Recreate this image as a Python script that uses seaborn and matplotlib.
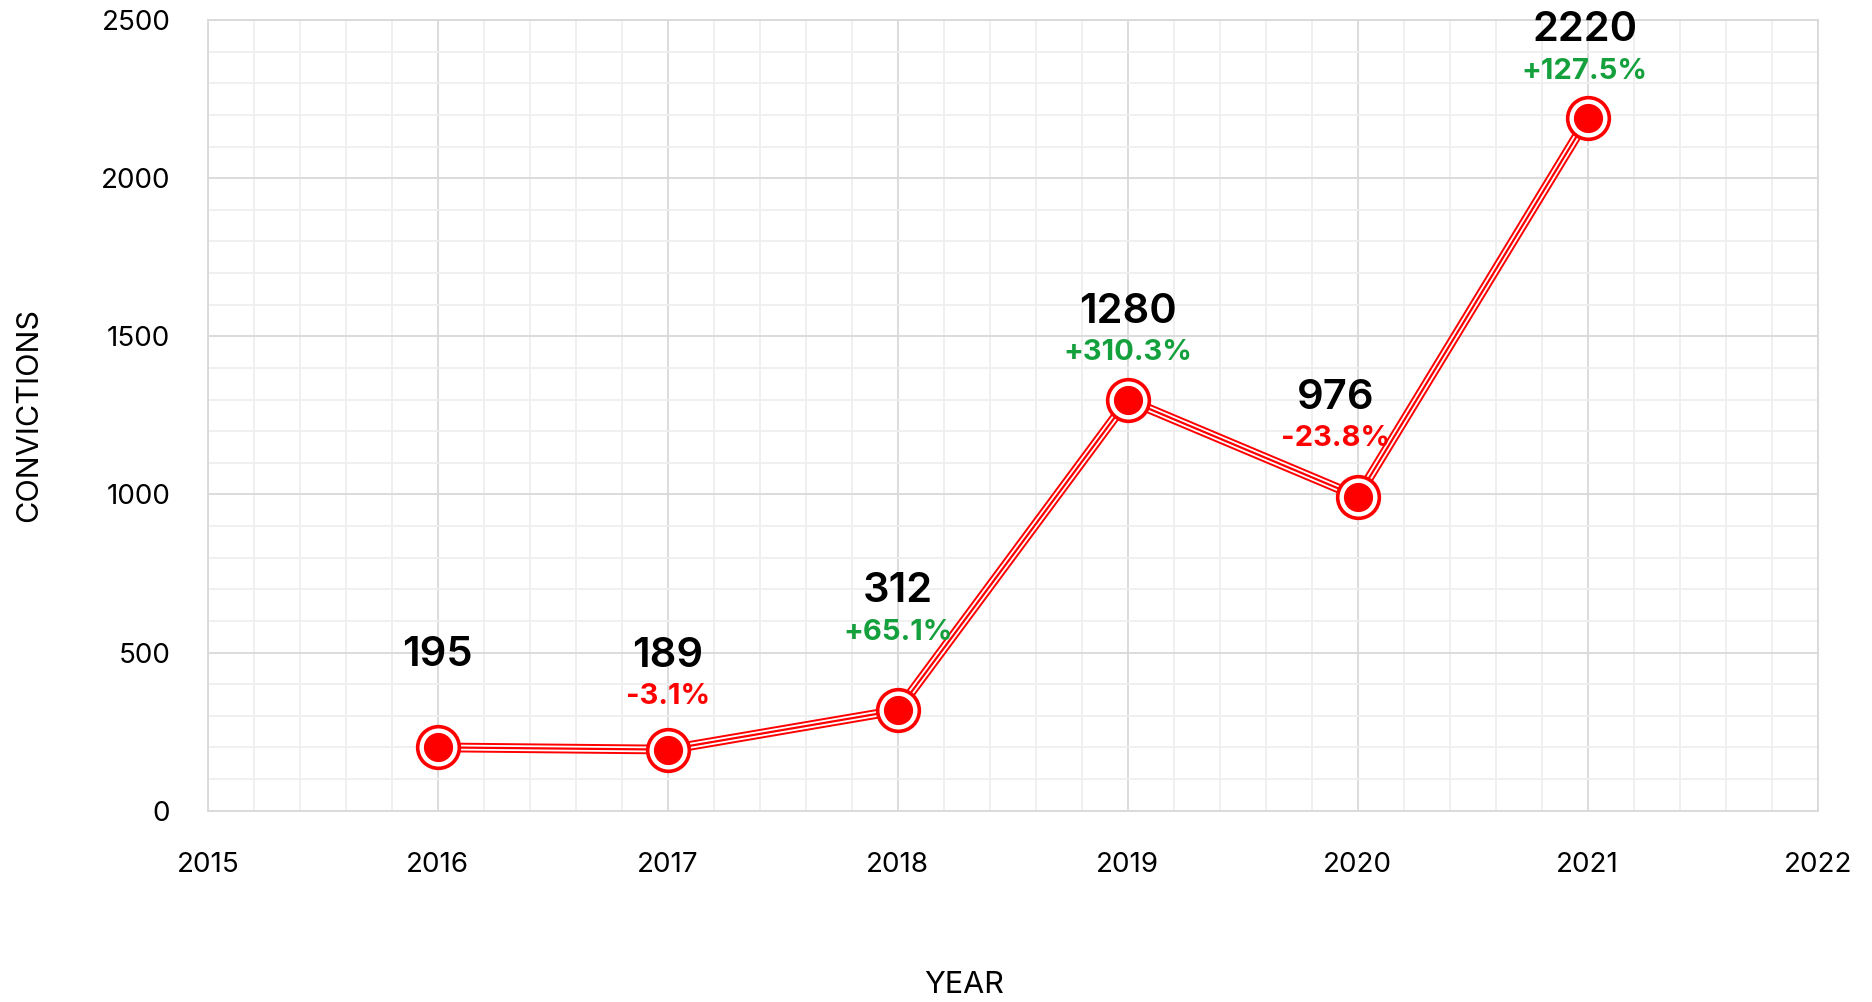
import numpy as np
import matplotlib.pyplot as plt
import seaborn as sns
from matplotlib.ticker import MultipleLocator

# =====================================
# Data
# =====================================
years = [2016, 2017, 2018, 2019, 2020, 2021]
plotted = [200, 193, 317, 1299, 993, 2190]
labels = [195, 189, 312, 1280, 976, 2220]

# label placement (pixels above the point, horizontal shift)
label_dy = [92, 94, 119, 88, 99, 88]
label_dx = [0, 0, 0, 0, -22, -3]

RED = "#ff0000"
GREEN = "#14a03c"

sns.set_style("white")
plt.rcParams["font.family"] = ["Inter", "DejaVu Sans"]

fig = plt.figure(figsize=(18.72, 10.02), dpi=100)
ax = fig.add_axes([0.111, 0.191, 0.86, 0.789])

# triple stripe line: red / white / red
sns.lineplot(x=years, y=plotted, ax=ax, color=RED, linewidth=7.0, zorder=3)
sns.lineplot(x=years, y=plotted, ax=ax, color="white", linewidth=4.2, zorder=4)
sns.lineplot(x=years, y=plotted, ax=ax, color=RED, linewidth=1.6, zorder=5)

# ringed markers
ax.plot(years, plotted, ls="none", marker="o", markersize=30,
        markerfacecolor="white", markeredgecolor=RED, markeredgewidth=2.6, zorder=6)
ax.plot(years, plotted, ls="none", marker="o", markersize=20,
        markerfacecolor=RED, markeredgecolor=RED, zorder=7)

# value and change labels
for i, (x, y, lab) in enumerate(zip(years, plotted, labels)):
    ax.annotate(str(lab), (x, y), xytext=(label_dx[i], label_dy[i]),
                textcoords="offset pixels", ha="center", va="center",
                fontsize=30, fontweight="semibold", color="black", zorder=8)
    if i > 0:
        pct = (lab - labels[i - 1]) / labels[i - 1] * 100
        txt = f"{pct:+.1f}%"
        ax.annotate(txt, (x, y), xytext=(label_dx[i], label_dy[i] - 41),
                    textcoords="offset pixels", ha="center", va="center",
                    fontsize=21, fontweight="bold",
                    color=GREEN if pct >= 0 else RED, zorder=8)

ax.set_xlim(2015, 2022)
ax.set_ylim(0, 2500)
ax.xaxis.set_major_locator(MultipleLocator(1))
ax.xaxis.set_minor_locator(MultipleLocator(0.2))
ax.yaxis.set_major_locator(MultipleLocator(500))
ax.yaxis.set_minor_locator(MultipleLocator(100))
ax.set_xticklabels([f"{int(t)}" for t in ax.get_xticks()])

ax.grid(which="major", color="#d9d9d9", linewidth=1.3)
ax.grid(which="minor", color="#efefef", linewidth=1.3)
ax.set_axisbelow(True)
for s in ax.spines.values():
    s.set_color("#d9d9d9")
    s.set_linewidth(1.3)

ax.tick_params(axis="x", which="both", length=0, pad=30, labelsize=20,
               labelcolor="black")
ax.tick_params(axis="y", which="both", length=0, pad=27, labelsize=20,
               labelcolor="black")

ax.set_xlabel("YEAR", fontsize=22, color="black")
ax.set_ylabel("CONVICTIONS", fontsize=22, color="black")
ax.xaxis.set_label_coords(0.470, -0.203)
ax.yaxis.set_label_coords(-0.102, 0.5)

plt.savefig("out.png", dpi=100)
plt.close()
